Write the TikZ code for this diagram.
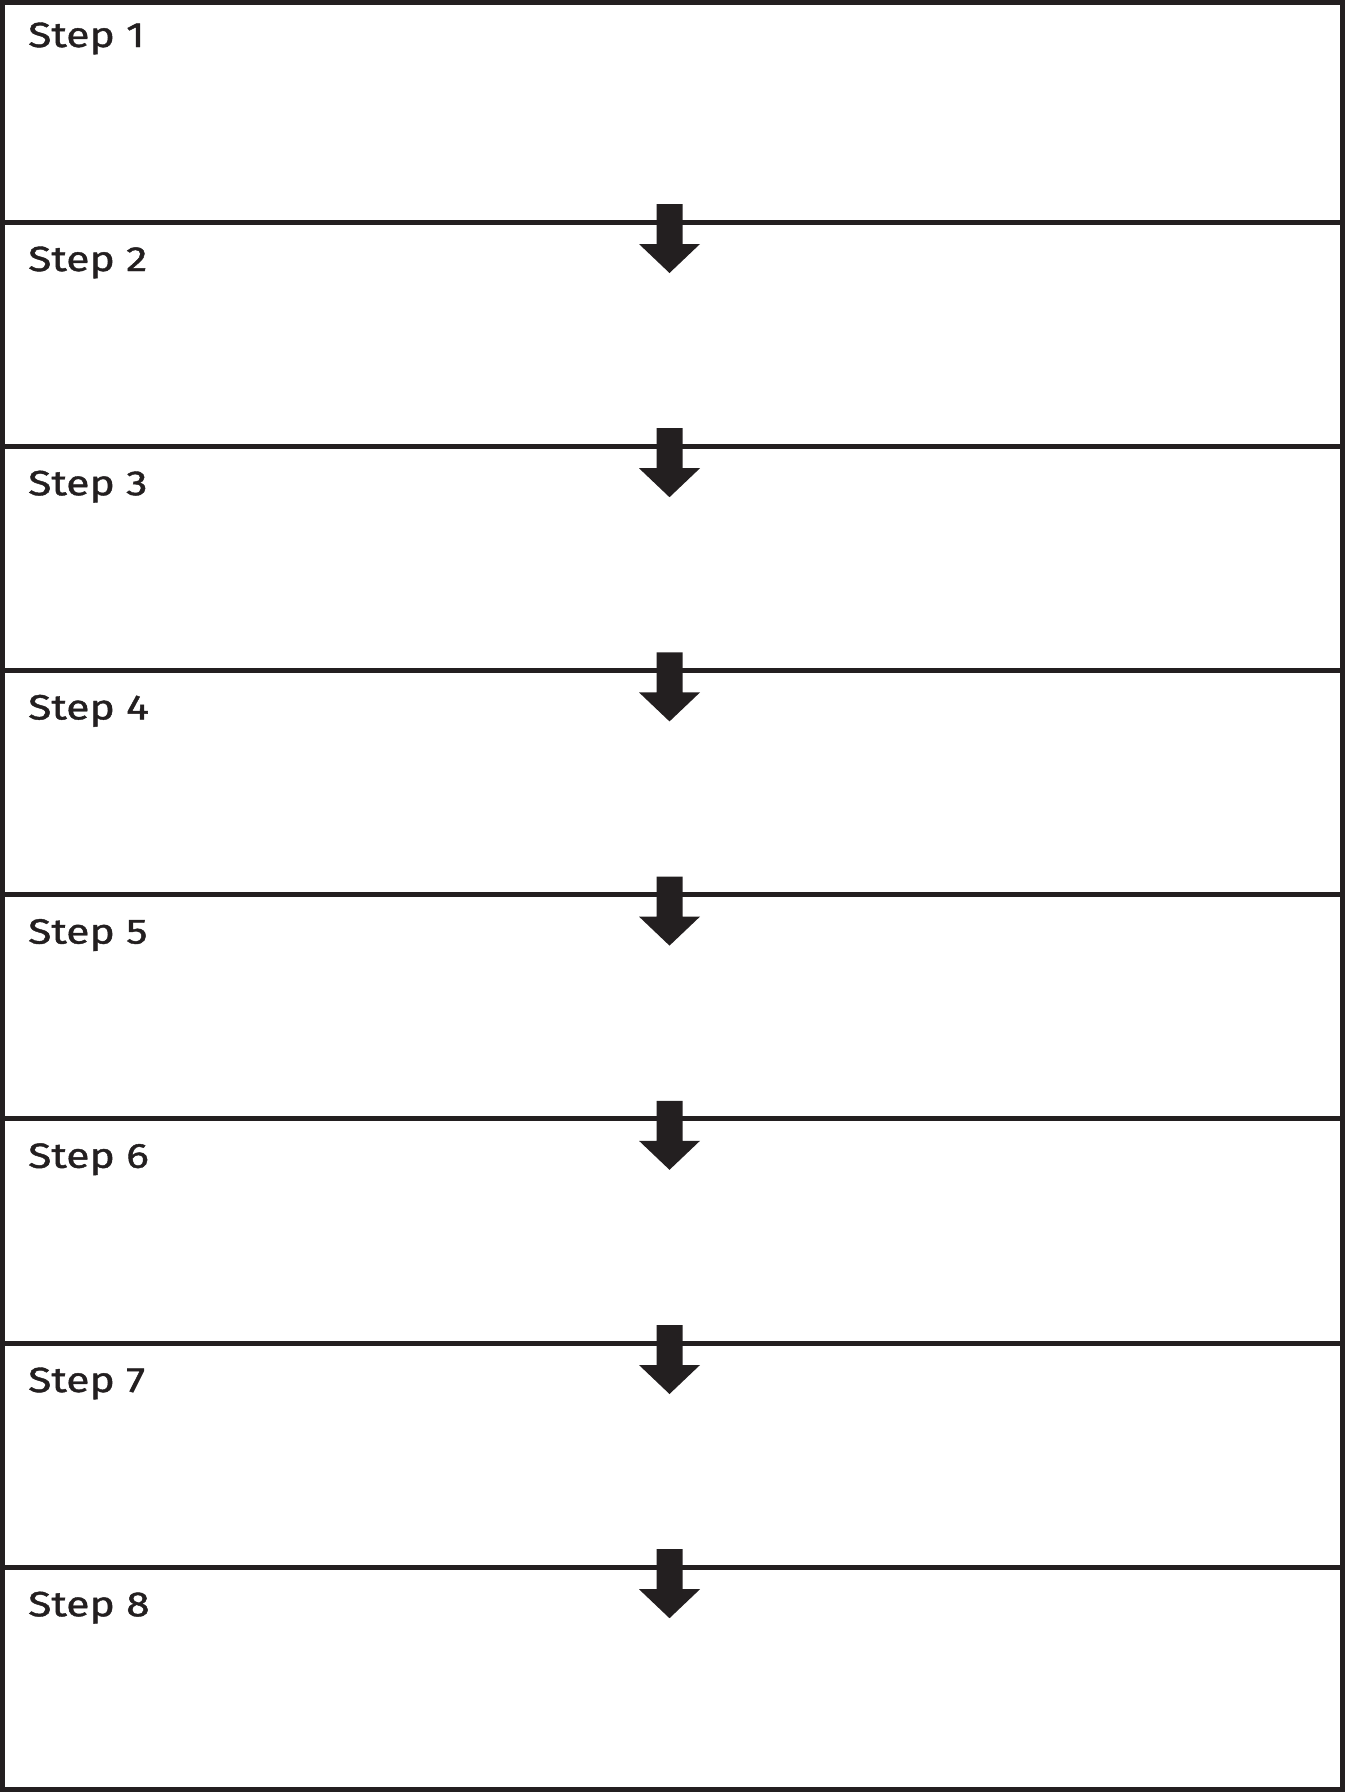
\documentclass[tikz,border=0pt]{standalone}
\usepackage{fontspec}
\setmainfont{Fira Sans}[FakeStretch=1.22,FakeBold=1.2]
\definecolor{ink}{HTML}{231F20}
\tikzset{
  frame/.style={draw=ink, line width=5pt},
  divider/.style={draw=ink, line width=5pt},
  steplabel/.style={anchor=base west, inner sep=0pt, text=ink, font=\fontsize{35}{40}\selectfont},
  downarrow/.style={fill=ink}
}
\begin{document}
\begin{tikzpicture}[x=1pt,y=-1pt]
\useasboundingbox (0,0) rectangle (1345,1792);
\draw[frame] (2.5,2.5) rectangle (1342.5,1789.5);
\node[steplabel] (s1) at (28,47) {Step 1};
\foreach \k [evaluate=\k as \d using {222+224.2*(\k-1)}, evaluate=\k as \n using int(\k+1)] in {1,...,7} {
  \draw[divider] (2.5,\d) -- (1342.5,\d);
  \fill[downarrow] (656.5,\d-18) -- (682.5,\d-18) -- (682.5,\d+22) -- (700,\d+22)
     -- (669.5,\d+51) -- (639,\d+22) -- (656.5,\d+22) -- cycle;
  \node[steplabel] (s\n) at (28,\d+49) {Step \n};
}
\end{tikzpicture}
\end{document}
